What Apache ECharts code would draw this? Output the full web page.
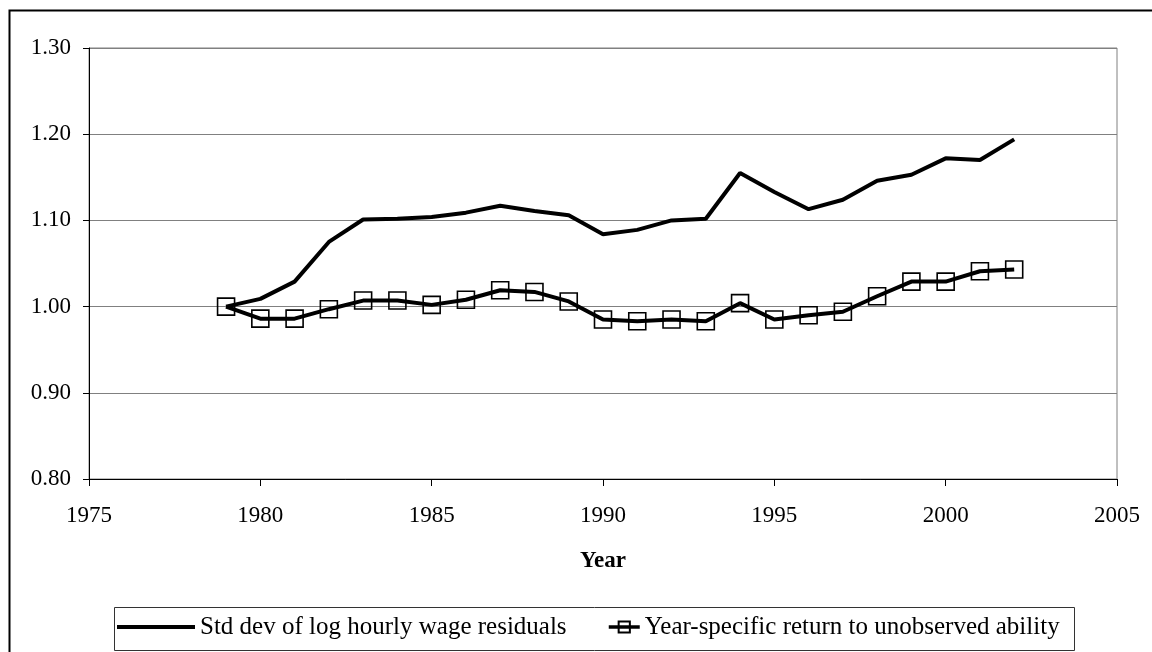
<!DOCTYPE html>
<html>
<head>
<meta charset="utf-8">
<script src="https://cdn.jsdelivr.net/npm/echarts@6/dist/echarts.min.js"></script>
<style>
html,body{margin:0;padding:0;background:#fff;}
#c{width:1152px;height:652px;}
</style>
</head>
<body>
<div id="c"></div>
<script>
const years = [1979,1980,1981,1982,1983,1984,1985,1986,1987,1988,1989,1990,1991,1992,1993,1994,1995,1996,1997,1998,1999,2000,2001,2002];
const stdDev = [1.000,1.009,1.029,1.075,1.101,1.102,1.104,1.109,1.117,1.111,1.106,1.084,1.089,1.100,1.102,1.155,1.133,1.113,1.124,1.146,1.153,1.172,1.170,1.194];
const ability = [1.000,0.986,0.986,0.997,1.007,1.007,1.002,1.008,1.019,1.017,1.006,0.985,0.983,0.985,0.983,1.004,0.985,0.990,0.994,1.012,1.029,1.029,1.041,1.043];
const seriesNames = ['Std dev of log hourly wage residuals','Year-specific return to unobserved ability'];
const xTitle = 'Year';

const FONT = '"Liberation Serif", "Times New Roman", serif';
const chart = echarts.init(document.getElementById('c'), null, {renderer:'canvas'});
chart.setOption({
  animation:false,
  backgroundColor:'#fff',
  graphic:[
    {type:'rect', left:7, top:8, shape:{x:0,y:0,width:1200,height:700}, style:{fill:'none',stroke:'#000',lineWidth:2}, silent:true, z:-10},
    {type:'rect', left:112, top:605, shape:{x:0,y:0,width:960,height:43}, style:{fill:'none',stroke:'#333',lineWidth:1}, silent:true}
  ],
  grid:{left:89, right:35, top:48, bottom:173, show:true, borderColor:'#808080', borderWidth:1},
  legend:[
    {data:[{name:seriesNames[0], icon:'rect'}], left:117, top:614, padding:0, itemWidth:78, itemHeight:4,
     itemStyle:{color:'#000'},
     textStyle:{fontFamily:FONT, fontSize:25, color:'#000', lineHeight:26}},
    {data:[seriesNames[1]], left:607, top:614, padding:0, itemWidth:31, itemHeight:14,
     lineStyle:{width:3.5, color:'#000'},
     textStyle:{fontFamily:FONT, fontSize:25, color:'#000', lineHeight:26}}
  ],
  xAxis:{
    type:'value', min:1975, max:2005, interval:5,
    name:xTitle, nameLocation:'middle', nameGap:71,
    nameTextStyle:{fontFamily:FONT, fontSize:23, fontWeight:'bold', color:'#000'},
    axisLine:{lineStyle:{color:'#000', width:1}},
    axisTick:{show:true, inside:false, length:7, lineStyle:{color:'#000'}},
    axisLabel:{fontFamily:FONT, fontSize:23, color:'#000', margin:25, formatter:v=>String(v)},
    splitLine:{show:false}
  },
  yAxis:{
    type:'value', min:0.8, max:1.3, interval:0.1,
    axisLine:{show:true, lineStyle:{color:'#000', width:1}},
    axisTick:{show:true, inside:false, length:6, lineStyle:{color:'#000'}},
    axisLabel:{fontFamily:FONT, fontSize:23, color:'#000', margin:18, formatter:v=>v.toFixed(2)},
    splitLine:{show:true, lineStyle:{color:'#808080', width:1}}
  },
  series:[
    {name:seriesNames[0], type:'line', data:years.map((y,i)=>[y,stdDev[i]]),
     symbol:'none', lineStyle:{color:'#000', width:4}, itemStyle:{color:'#000'}, z:2},
    {name:seriesNames[1], type:'line', data:years.map((y,i)=>[y,ability[i]]),
     symbol:'rect', symbolSize:17, showSymbol:true,
     lineStyle:{color:'#000', width:4},
     itemStyle:{color:'rgba(255,255,255,0)', borderColor:'#000', borderWidth:1.6}, z:3}
  ]
});
</script>
</body>
</html>
